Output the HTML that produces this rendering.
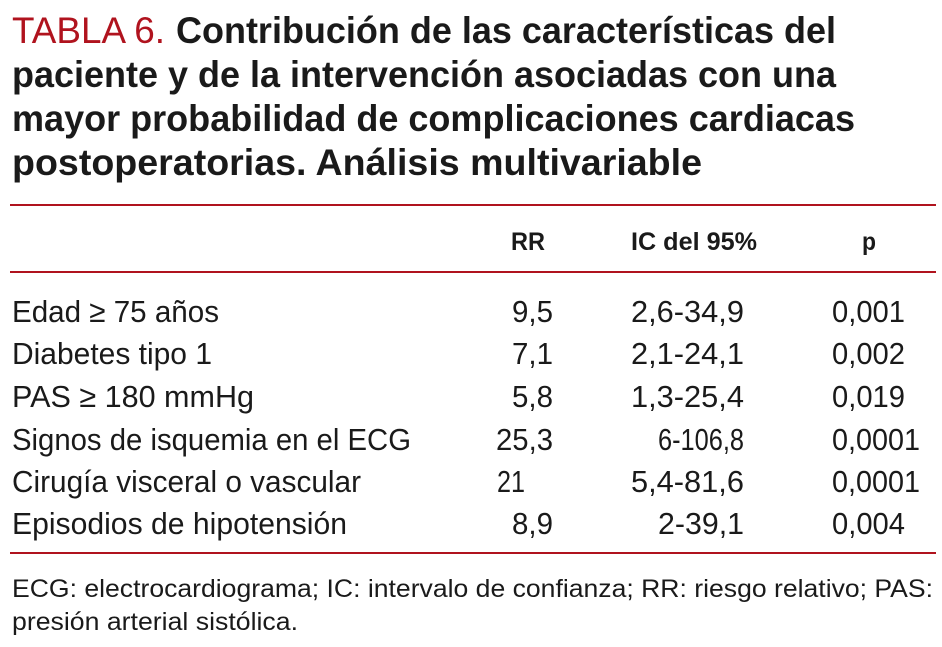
<!DOCTYPE html>
<html><head><meta charset="utf-8"><style>
html,body{margin:0;padding:0;background:#fff;}
svg{display:block;}
text{font-family:"Liberation Sans Narrow","Liberation Sans",sans-serif;fill:#1a1a1a;}
.t{font-size:37px;font-weight:bold;}
.h{font-size:25px;font-weight:bold;}
.r{font-size:31px;}
.f{font-size:25px;}
</style></head><body>
<svg width="942" height="647" viewBox="0 0 942 647">
<g>
<text class="t" x="12" y="43"><tspan style="fill:#b0131e;font-weight:normal" textLength="153" lengthAdjust="spacingAndGlyphs">TABLA 6.</tspan></text>
<text class="t" x="176" y="43" textLength="660" lengthAdjust="spacingAndGlyphs">Contribución de las características del</text>
<text class="t" x="12" y="87" textLength="824" lengthAdjust="spacingAndGlyphs">paciente y de la intervención asociadas con una</text>
<text class="t" x="12" y="131" textLength="843" lengthAdjust="spacingAndGlyphs">mayor probabilidad de complicaciones cardiacas</text>
<text class="t" x="12" y="175" textLength="690" lengthAdjust="spacingAndGlyphs">postoperatorias. Análisis multivariable</text>
</g>
<rect x="10" y="204" width="926" height="2" fill="#b0131e"/>
<g>
<text class="h" x="511" y="250" textLength="34" lengthAdjust="spacingAndGlyphs">RR</text>
<text class="h" x="631" y="250" textLength="126" lengthAdjust="spacingAndGlyphs">IC del 95%</text>
<text class="h" x="862" y="250" textLength="14" lengthAdjust="spacingAndGlyphs">p</text>
</g>
<rect x="10" y="271" width="926" height="2" fill="#b0131e"/>
<g>
<text class="r" x="12" y="322" textLength="207" lengthAdjust="spacingAndGlyphs">Edad ≥ 75 años</text>
<text class="r" x="512" y="322" textLength="41" lengthAdjust="spacingAndGlyphs">9,5</text>
<text class="r" x="631" y="322" textLength="113" lengthAdjust="spacingAndGlyphs">2,6-34,9</text>
<text class="r" x="832" y="322" textLength="73" lengthAdjust="spacingAndGlyphs">0,001</text>

<text class="r" x="12" y="364" textLength="200" lengthAdjust="spacingAndGlyphs">Diabetes tipo 1</text>
<text class="r" x="512" y="364" textLength="41" lengthAdjust="spacingAndGlyphs">7,1</text>
<text class="r" x="631" y="364" textLength="113" lengthAdjust="spacingAndGlyphs">2,1-24,1</text>
<text class="r" x="832" y="364" textLength="73" lengthAdjust="spacingAndGlyphs">0,002</text>

<text class="r" x="12" y="407" textLength="242" lengthAdjust="spacingAndGlyphs">PAS ≥ 180 mmHg</text>
<text class="r" x="512" y="407" textLength="41" lengthAdjust="spacingAndGlyphs">5,8</text>
<text class="r" x="631" y="407" textLength="113" lengthAdjust="spacingAndGlyphs">1,3-25,4</text>
<text class="r" x="832" y="407" textLength="73" lengthAdjust="spacingAndGlyphs">0,019</text>

<text class="r" x="12" y="450" textLength="399" lengthAdjust="spacingAndGlyphs">Signos de isquemia en el ECG</text>
<text class="r" x="496" y="450" textLength="57" lengthAdjust="spacingAndGlyphs">25,3</text>
<text class="r" x="658" y="450" textLength="86" lengthAdjust="spacingAndGlyphs">6-106,8</text>
<text class="r" x="832" y="450" textLength="88" lengthAdjust="spacingAndGlyphs">0,0001</text>

<text class="r" x="12" y="492" textLength="349" lengthAdjust="spacingAndGlyphs">Cirugía visceral o vascular</text>
<text class="r" x="497" y="492" textLength="28" lengthAdjust="spacingAndGlyphs">21</text>
<text class="r" x="631" y="492" textLength="113" lengthAdjust="spacingAndGlyphs">5,4-81,6</text>
<text class="r" x="832" y="492" textLength="88" lengthAdjust="spacingAndGlyphs">0,0001</text>

<text class="r" x="12" y="534" textLength="335" lengthAdjust="spacingAndGlyphs">Episodios de hipotensión</text>
<text class="r" x="512" y="534" textLength="41" lengthAdjust="spacingAndGlyphs">8,9</text>
<text class="r" x="658" y="534" textLength="86" lengthAdjust="spacingAndGlyphs">2-39,1</text>
<text class="r" x="832" y="534" textLength="73" lengthAdjust="spacingAndGlyphs">0,004</text>
</g>
<rect x="10" y="552" width="926" height="2" fill="#b0131e"/>
<g>
<text class="f" x="12" y="597" textLength="921" lengthAdjust="spacingAndGlyphs">ECG: electrocardiograma; IC: intervalo de confianza; RR: riesgo relativo; PAS:</text>
<text class="f" x="12" y="630" textLength="286" lengthAdjust="spacingAndGlyphs">presión arterial sistólica.</text>
</g>
</svg>
</body></html>
